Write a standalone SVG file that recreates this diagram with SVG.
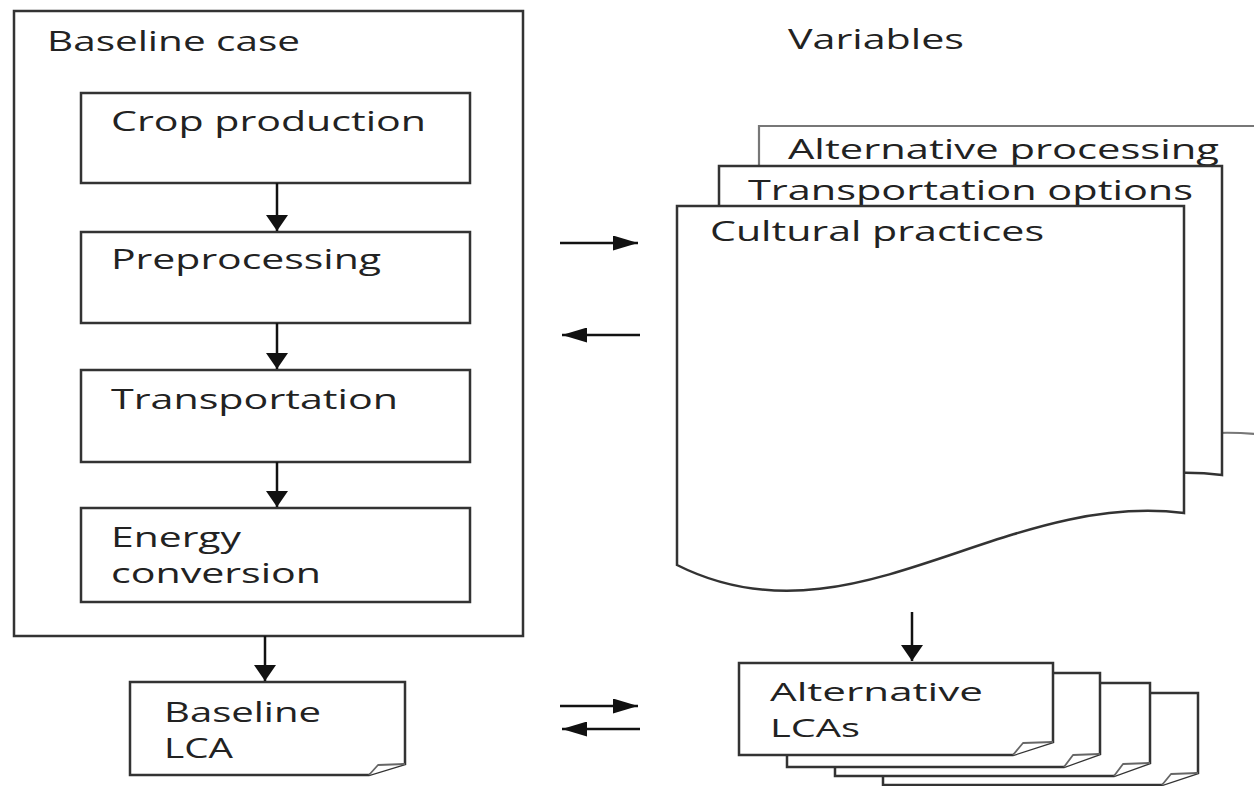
<svg xmlns="http://www.w3.org/2000/svg" width="1254" height="786" viewBox="0 0 1254 786">
<style>
  .box{fill:#fff;stroke:#333;stroke-width:2.5}
  .doc{fill:#fff;stroke:#333;stroke-width:2.5;stroke-linejoin:miter}
  .docb{fill:#fff;stroke:#777;stroke-width:2.2}
  .fold{fill:#fff;stroke:#666;stroke-width:1.8;stroke-linejoin:round}
  .t{font-family:"Open Sans","Liberation Sans",sans-serif;font-size:28px;fill:#222}
  .s{font-size:26px}
  .c{stroke:#111;stroke-width:2.5;fill:none}
</style>
<defs>
  <marker id="av" markerUnits="userSpaceOnUse" markerWidth="16" markerHeight="22" viewBox="0 0 16 22" refX="16" refY="11" orient="auto">
    <path d="M0,0 L16,11 L0,22 Z" fill="#111"/>
  </marker>
  <marker id="ah" markerUnits="userSpaceOnUse" markerWidth="25" markerHeight="15" viewBox="0 0 25 15" refX="25" refY="7.5" orient="auto">
    <path d="M0,0 L25,7.5 L0,15 Z" fill="#111"/>
  </marker>
</defs>
<rect width="1254" height="786" fill="#fff"/>

<g id="baseline-case">
  <rect class="box" x="14" y="11" width="509" height="625"/>
  <text class="t" x="47" y="51" textLength="253" lengthAdjust="spacingAndGlyphs">Baseline case</text>
</g>
<g id="crop-production">
  <rect class="box" x="81" y="93" width="389" height="90"/>
  <text class="t" x="111" y="131" textLength="315" lengthAdjust="spacingAndGlyphs">Crop production</text>
</g>
<g id="preprocessing">
  <rect class="box" x="81" y="232" width="389" height="91"/>
  <text class="t" x="111" y="269" textLength="270" lengthAdjust="spacingAndGlyphs">Preprocessing</text>
</g>
<g id="transportation">
  <rect class="box" x="81" y="370" width="389" height="92"/>
  <text class="t" x="111" y="409" textLength="287" lengthAdjust="spacingAndGlyphs">Transportation</text>
</g>
<g id="energy-conversion">
  <rect class="box" x="81" y="508" width="389" height="94"/>
  <text class="t" x="111" y="547" textLength="130" lengthAdjust="spacingAndGlyphs">Energy</text>
  <text class="t" x="111" y="583" textLength="210" lengthAdjust="spacingAndGlyphs">conversion</text>
</g>

<g id="baseline-lca">
  <path class="box" d="M130,682 H405 V764 L369,775 H130 Z"/>
  <path class="fold" d="M369,775 L378,765 L405,764"/>
  <text class="t" x="164" y="722" textLength="157" lengthAdjust="spacingAndGlyphs">Baseline</text>
  <text class="t" x="164" y="758" textLength="69" lengthAdjust="spacingAndGlyphs">LCA</text>
</g>

<g id="variables">
  <text class="t" x="788" y="49" textLength="176" lengthAdjust="spacingAndGlyphs">Variables</text>
</g>
<g id="alternative-processing">
  <path class="docb" d="M759,126 H1264 V435 C1080,412 930,572 759,485 Z"/>
  <text class="t" x="788" y="159" textLength="431" lengthAdjust="spacingAndGlyphs">Alternative processing</text>
</g>
<g id="transportation-options">
  <path class="doc" d="M719,166 H1222 V475 C1040,452 890,612 719,525 Z"/>
  <text class="t" x="748" y="200" textLength="445" lengthAdjust="spacingAndGlyphs">Transportation options</text>
</g>
<g id="cultural-practices">
  <path class="doc" d="M677,206 H1184 V513 C1000,490 850,652 677,565 Z"/>
  <text class="t" x="710" y="241" textLength="334" lengthAdjust="spacingAndGlyphs">Cultural practices</text>
</g>

<g id="alternative-lcas">
  <path class="box" d="M883,693 H1198 V773 L1162,785 H883 Z"/>
  <path class="fold" d="M1162,785 L1171,774 L1198,773"/>
  <path class="box" d="M835,683 H1150 V763 L1114,776 H835 Z"/>
  <path class="fold" d="M1114,776 L1123,764 L1150,763"/>
  <path class="box" d="M787,673 H1100 V754 L1064,767 H787 Z"/>
  <path class="fold" d="M1064,767 L1073,755 L1100,754"/>
  <path class="box" d="M739,663 H1053 V742 L1013,755 H739 Z"/>
  <path class="fold" d="M1013,755 L1023,743 L1053,742"/>
  <text class="t s" x="770" y="701" textLength="213" lengthAdjust="spacingAndGlyphs">Alternative</text>
  <text class="t s" x="770" y="737" textLength="90" lengthAdjust="spacingAndGlyphs">LCAs</text>
</g>

<g id="connectors">
  <line class="c" x1="277" y1="183" x2="277" y2="231" marker-end="url(#av)"/>
  <line class="c" x1="277" y1="323" x2="277" y2="369" marker-end="url(#av)"/>
  <line class="c" x1="277" y1="462" x2="277" y2="507" marker-end="url(#av)"/>
  <line class="c" x1="265" y1="636" x2="265" y2="681" marker-end="url(#av)"/>
  <line class="c" x1="912" y1="612" x2="912" y2="661" marker-end="url(#av)"/>
  <line class="c" x1="560" y1="243" x2="638" y2="243" marker-end="url(#ah)"/>
  <line class="c" x1="640" y1="335" x2="562" y2="335" marker-end="url(#ah)"/>
  <line class="c" x1="560" y1="706" x2="638" y2="706" marker-end="url(#ah)"/>
  <line class="c" x1="640" y1="729" x2="562" y2="729" marker-end="url(#ah)"/>
</g>
</svg>
